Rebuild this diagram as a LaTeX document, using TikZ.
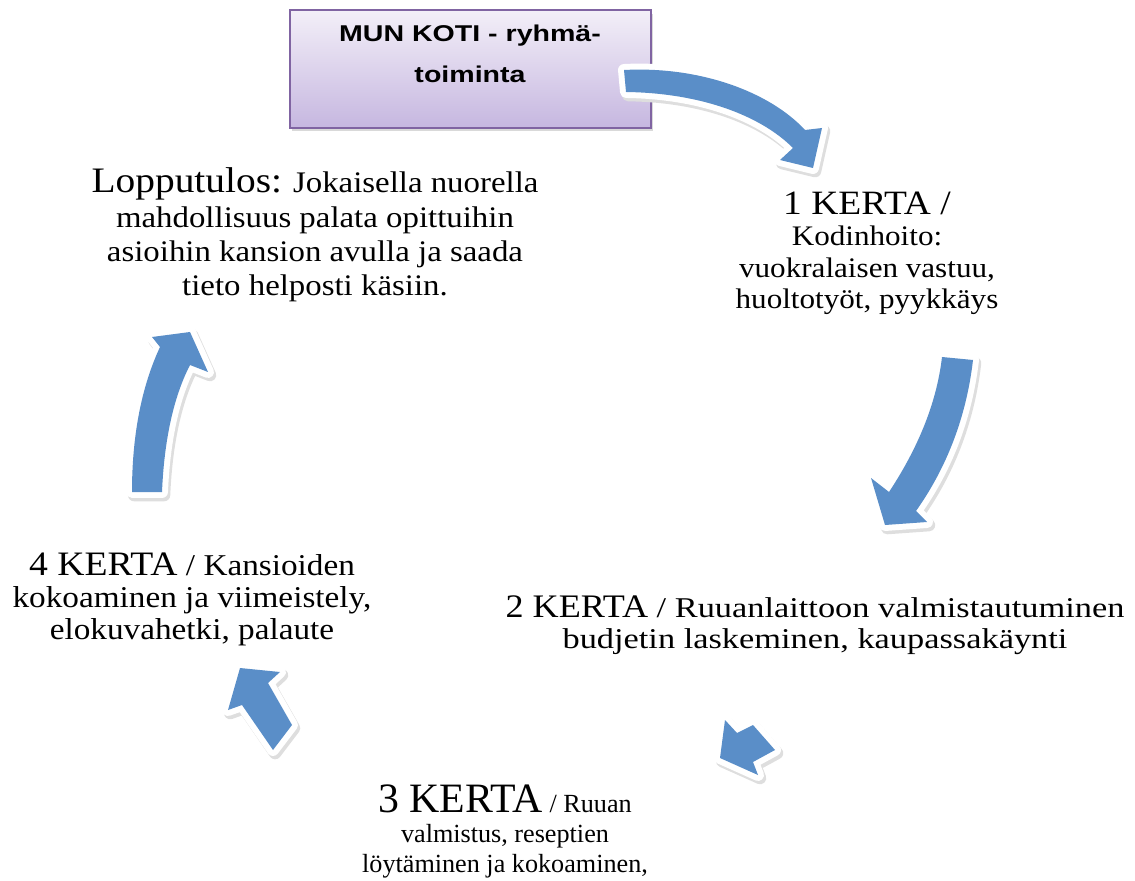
\documentclass[tikz,border=0pt]{standalone}
\usepackage{fontspec}
\setmainfont[FakeStretch=1.1]{Liberation Serif}
\newfontfamily\plainserif{Liberation Serif}
\newfontfamily\wideserif[FakeStretch=1.2]{Liberation Serif}
\newfontfamily\boxfont[FakeStretch=1.25]{Liberation Sans}
\usetikzlibrary{shadows}

\definecolor{arrowblue}{RGB}{90,142,200}
\definecolor{boxtop}{RGB}{243,239,248}
\definecolor{boxbottom}{RGB}{198,183,224}
\definecolor{boxline}{RGB}{128,100,162}

\newcommand{\kerta}[2][20]{{\fontsize{#1}{#1}\selectfont #2}}

\tikzset{
    step text/.style={align=center,inner sep=0pt},
    blockarrow/.style={fill=arrowblue,line join=round,
        preaction={draw=black!13,fill=black!13,line width=7pt,line join=round,
            transform canvas={shift={(1.2pt,-1.8pt)}}},
        preaction={draw=white,fill=white,line width=6.8pt,line join=round}}
}

\begin{document}
\begin{tikzpicture}[x=0.02cm,y=-0.02cm]
    \useasboundingbox (0,0) rectangle (1135,881);
    %% NOTE:
    %% title box
    \node (box) [draw=boxline,line width=0.8pt,top color=boxtop,bottom color=boxbottom,
        minimum width=7.22cm,minimum height=2.36cm,inner sep=0pt,
        drop shadow={shadow xshift=1pt,shadow yshift=-2pt,opacity=0.3}] at (470.5,69) {};
    \node (title) [align=center,inner sep=0pt,
        font=\boxfont\bfseries\fontsize{13}{23.2}\selectfont] at (470,54)
        {MUN KOTI - ryhmä-\\toiminta};
    %% steps
    \node (kerta1) [step text,font=\fontsize{16.1}{17.8}\selectfont] at (867,253.3)
        {\kerta[19.4]{1 KERTA /}\\Kodinhoito:\\vuokralaisen vastuu,\\huoltotyöt, pyykkäys};
    \node (kerta2) [step text,font=\wideserif\fontsize{16.3}{17.6}\selectfont] at (815,625)
        {\kerta[18.7]{\rmfamily 2 KERTA} / Ruuanlaittoon valmistautuminen\\budjetin laskeminen, kaupassakäynti};
    \node (kerta3) [step text,font=\plainserif\fontsize{14.9}{17.3}\selectfont] at (505,831.4)
        {\kerta[23.8]{3 KERTA} / Ruuan\\valmistus, reseptien\\löytäminen ja kokoaminen,};
    \node (kerta4) [step text,font=\fontsize{17.2}{18.4}\selectfont] at (192,599.4)
        {\kerta[19.5]{4 KERTA} / Kansioiden\\kokoaminen ja viimeistely,\\elokuvahetki, palaute};
    \node (result) [step text,font=\fontsize{17}{19.5}\selectfont] at (315,235)
        {\kerta[20.4]{Lopputulos:} Jokaisella nuorella\\mahdollisuus palata opittuihin\\asioihin kansion avulla ja saada\\tieto helposti käsiin.};
    %% arrows
    \path[blockarrow] (624,70) .. controls (700,66) and (770,92) .. (805,130)
        -- (822,128) -- (813,168) -- (780,160) -- (793,148)
        .. controls (760,115) and (700,93) .. (626,92) -- cycle;
    \path[blockarrow] (942,357) .. controls (937,400) and (920,445) .. (889,492)
        -- (871,478) -- (885,525) -- (927,522) -- (916,511)
        .. controls (945,470) and (966,420) .. (973,360) -- cycle;
    \path[blockarrow] (753,725) -- (737,733) -- (725,720) -- (720,758)
        -- (758,775) -- (753,762) -- (775,750) -- cycle;
    \path[blockarrow] (292,725) -- (268,683) -- (280,672) -- (240,668)
        -- (228,710) -- (242,705) -- (273,750) -- cycle;
    \path[blockarrow] (132,492) .. controls (132,440) and (140,390) .. (160,347)
        -- (152,337) -- (190,332) -- (208,372) -- (190,365)
        .. controls (172,400) and (164,445) .. (162,492) -- cycle;
\end{tikzpicture}
\end{document}
